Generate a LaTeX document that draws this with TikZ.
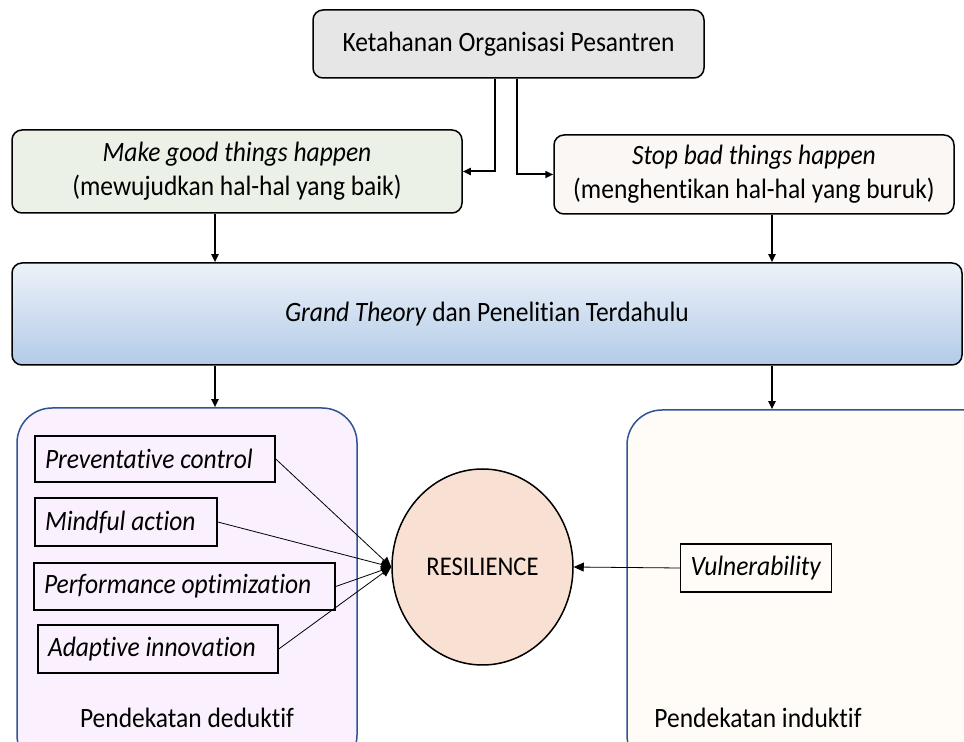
\documentclass[tikz,border=0pt]{standalone}
\usepackage{fontspec}
\setmainfont[Ligatures=NoCommon, FakeStretch=0.91]{Carlito}
\usepackage{tikz}
\usetikzlibrary{arrows.meta,shapes.geometric}

\definecolor{topgray}{HTML}{E7E6E6}
\definecolor{goodgreen}{HTML}{EBF1E6}
\definecolor{badpink}{HTML}{FAF7F5}
\definecolor{grandtop}{HTML}{EDF2F9}
\definecolor{grandbot}{HTML}{B2CBE7}
\definecolor{dedlav}{HTML}{FBF0FD}
\definecolor{indcream}{HTML}{FFFCF8}
\definecolor{frameblue}{HTML}{2F5496}
\definecolor{respeach}{HTML}{F8E0D3}

\begin{document}
\begin{tikzpicture}[x=0.5pt, y=-0.5pt,
  font=\fontsize{14}{17}\selectfont,
  rbox/.style={draw, line width=0.75pt, rounded corners=5pt, align=center},
  pbox/.style={draw, line width=0.75pt, inner xsep=5pt},
  frame/.style={draw=frameblue, line width=0.75pt, rounded corners=17.5pt},
  arr/.style={-{Triangle[length=4pt,width=3.5pt]}, line width=1pt},
  thinarr/.style={-{Triangle[length=5pt,width=4.5pt]}, line width=0.4pt}]
\useasboundingbox (0,0) rectangle (964,742);
\clip (0,0) rectangle (964,742);
\fill[white] (0,0) rectangle (964,742);

% top row
\node[rbox, fill=topgray, minimum width=195.5pt, minimum height=34pt] (top) at (508.5,44) {Ketahanan Organisasi Pesantren};
\node[rbox, fill=goodgreen, minimum width=225pt, minimum height=41.5pt] (good) at (237,171.5) {\textit{Make good things happen}\\(mewujudkan hal-hal yang baik)};
\node[rbox, fill=badpink, minimum width=200pt, minimum height=39.5pt] (bad) at (754,174.5) {\textit{Stop bad things happen}\\(menghentikan hal-hal yang buruk)};
\node[rbox, top color=grandtop, bottom color=grandbot, minimum width=475pt, minimum height=51pt] (grand) at (487,314) {\textit{Grand Theory} dan Penelitian Terdahulu};

% approaches
\node[frame, fill=dedlav, minimum width=170pt, minimum height=181pt] (ded) at (187,589) {};
\node[frame, fill=indcream, minimum width=186.5pt, minimum height=180pt] (ind) at (813.5,590) {};
\node (dedlabel) at (187,718) {Pendekatan deduktif};
\node (indlabel) at (758,718) {Pendekatan induktif};

\node[pbox, minimum height=23pt] (prev) at (155,459) {\makebox[110pt][l]{\textit{Preventative control}}};
\node[pbox, minimum height=24pt] (mind) at (126,522) {\makebox[81pt][l]{\textit{Mindful action}}};
\node[pbox, minimum height=23.5pt] (perf) at (184.5,586.5) {\makebox[140.5pt][l]{\textit{Performance optimization}}};
\node[pbox, minimum height=24pt] (adap) at (158,649) {\makebox[110pt][l]{\textit{Adaptive innovation}}};
\node[pbox, minimum width=70pt, minimum height=24pt] (vul) at (756,568) {\textit{Vulnerability}};
\node[ellipse, draw, line width=0.75pt, fill=respeach, minimum width=90.5pt, minimum height=98pt, font=\fontsize{13.5}{16}\selectfont] (res) at (482.5,567) {RESILIENCE};

% connectors
\coordinate (tl) at (495,0);
\coordinate (tr) at (517,0);
\coordinate (cl) at (215,0);
\coordinate (cr) at (772,0);
\draw[arr] (top.south -| tl) |- (good.east);
\draw[arr] (top.south -| tr) |- (bad.west);
\draw[arr] (good.south -| cl) -- (grand.north -| cl);
\draw[arr] (bad.south -| cr) -- (grand.north -| cr);
\draw[arr] (grand.south -| cl) -- (ded.north -| cl);
\draw[arr] (grand.south -| cr) -- (ind.north -| cr);
\foreach \src in {prev,mind,perf,adap}
  \draw[thinarr] (\src.east) -- (res.west);
\draw[thinarr] (vul.west) -- (res.east);
\end{tikzpicture}
\end{document}
